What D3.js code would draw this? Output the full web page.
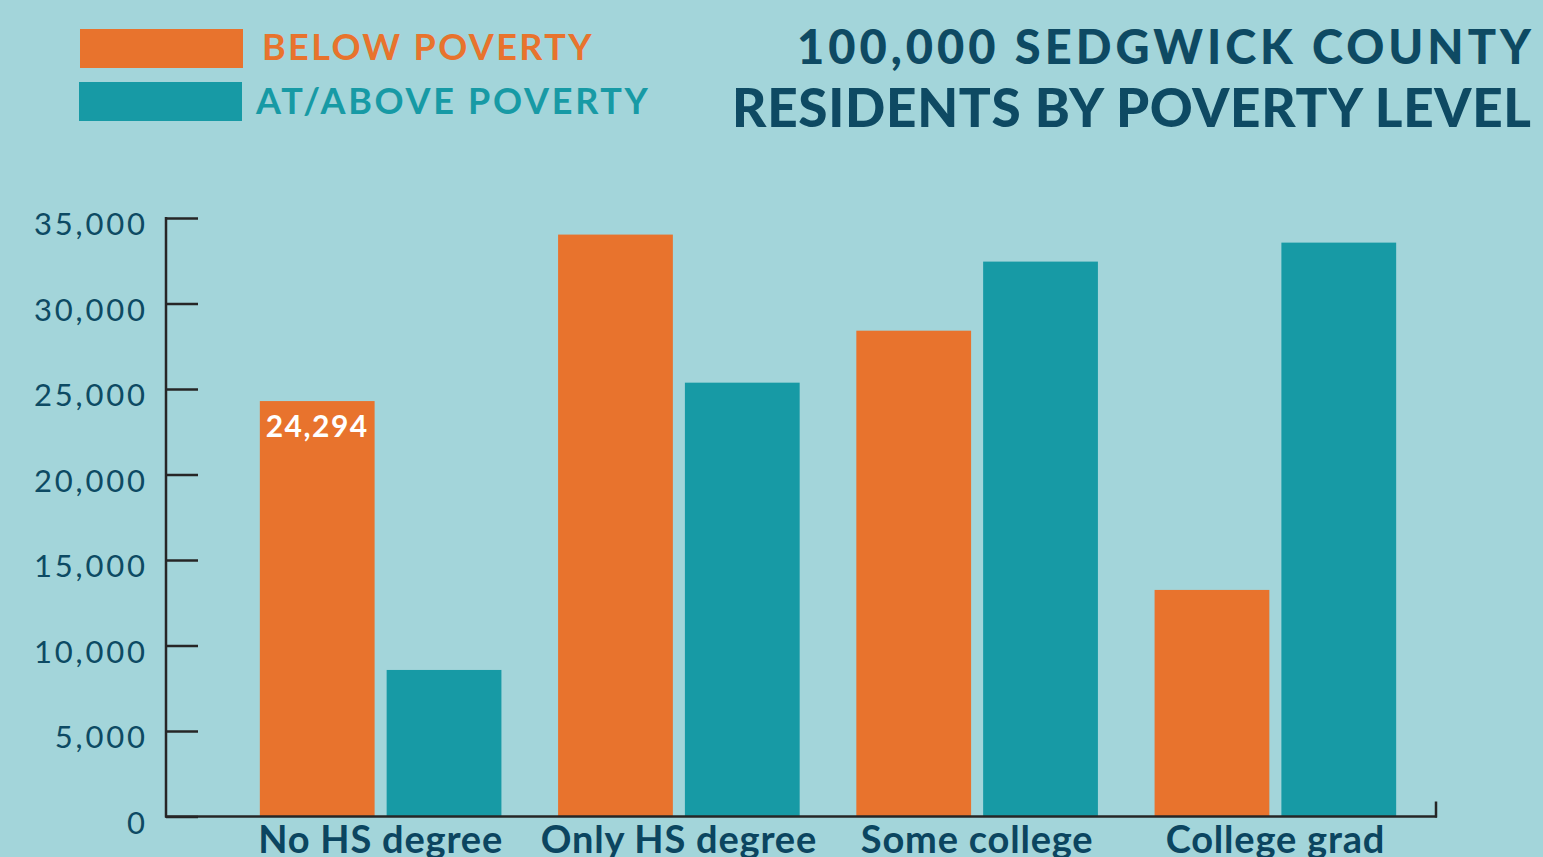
<!DOCTYPE html>
<html><head><meta charset="utf-8">
<script src="https://cdn.jsdelivr.net/npm/d3@7"></script>
<style>
html,body{margin:0;padding:0;background:#a3d5da;}
svg{display:block;}
</style></head>
<body>
<script>
const categories = ["No HS degree", "Only HS degree", "Some college", "College grad"];
const seriesNames = ["BELOW POVERTY", "AT/ABOVE POVERTY"];
const belowPoverty = [24294, 34030, 28410, 13250];
const atAbovePoverty = [8570, 25370, 32450, 33560];
const yTicks = [0, 5000, 10000, 15000, 20000, 25000, 30000, 35000];
const titleLines = ["100,000 SEDGWICK COUNTY", "RESIDENTS BY POVERTY LEVEL"];
const colors = ["#e8732d", "#179aa5"];

const W = 1543, H = 857;
const svg = d3.select("body").append("svg").attr("width", W).attr("height", H);
svg.append("rect").attr("width", W).attr("height", H).attr("fill", "#a3d5da");

const y = d3.scaleLinear().domain([0, 35000]).range([816.5, 218]);
const x0 = d3.scaleBand().domain(categories).range([233, 1423]).paddingInner(0.19).paddingOuter(0.09);
const x1 = d3.scaleBand().domain([0, 1]).range([0, x0.bandwidth()]).paddingInner(0.095);

const data = categories.map((c, i) => ({cat: c, vals: [belowPoverty[i], atAbovePoverty[i]]}));

// bars
const g = svg.append("g");
const groups = g.selectAll("g.grp").data(data).join("g").attr("transform", d => `translate(${x0(d.cat)},0)`);
groups.selectAll("rect").data(d => d.vals.map((v, k) => ({v, k}))).join("rect")
  .attr("x", d => x1(d.k)).attr("width", x1.bandwidth())
  .attr("y", d => y(d.v)).attr("height", d => y(0) - y(d.v))
  .attr("fill", d => colors[d.k]);

// axis
const axisColor = "#262626";
const yAxis = d3.axisRight(y).tickValues(yTicks).tickSize(32).tickFormat("");
const ya = svg.append("g").attr("transform", "translate(166,0)").call(yAxis);
ya.select(".domain").remove();
ya.selectAll(".tick line").attr("stroke", axisColor).attr("stroke-width", 2.5);
svg.append("line").attr("x1", 166).attr("x2", 166).attr("y1", y(35000) - 1).attr("y2", y(0) + 1)
  .attr("stroke", axisColor).attr("stroke-width", 2.5);
svg.append("line").attr("x1", 165).attr("x2", 1437).attr("y1", y(0)).attr("y2", y(0))
  .attr("stroke", axisColor).attr("stroke-width", 2.5);
svg.append("line").attr("x1", 1436).attr("x2", 1436).attr("y1", y(0) - 15).attr("y2", y(0) + 1)
  .attr("stroke", axisColor).attr("stroke-width", 2.5);

// y tick labels
const yls = 2.8;
svg.append("g").selectAll("text").data(yTicks).join("text")
  .attr("x", 145 + yls).attr("y", d => y(d) + 17)
  .attr("text-anchor", "end")
  .attr("font-family", "Lato, sans-serif").attr("font-size", 31)
  .attr("letter-spacing", yls)
  .attr("fill", "#0d4a63")
  .text(d => d3.format(",")(d));

// x labels
svg.append("g").selectAll("text").data(categories).join("text")
  .attr("x", d => x0(d) + x0.bandwidth() / 2).attr("y", 853)
  .attr("text-anchor", "middle")
  .attr("font-family", "Lato, sans-serif").attr("font-weight", 700).attr("font-size", 38)
  .attr("letter-spacing", 0.8)
  .attr("fill", "#0b4560")
  .text(d => d);

// value label
svg.append("text")
  .attr("x", x0(categories[0]) + x1(0) + x1.bandwidth() / 2).attr("y", y(belowPoverty[0]) + 36)
  .attr("text-anchor", "middle")
  .attr("font-family", "Lato, sans-serif").attr("font-weight", 700).attr("font-size", 30)
  .attr("letter-spacing", 1.5)
  .attr("fill", "#ffffff")
  .text(d3.format(",")(belowPoverty[0]));

// legend
const leg = svg.append("g");
seriesNames.forEach((s, i) => {
  leg.append("rect").attr("x", 80 - i).attr("y", 29 + i * 53).attr("width", 163).attr("height", 39).attr("fill", colors[i]);
  leg.append("text").attr("x", i === 0 ? 262 : 256).attr("y", 60 + i * 54)
    .attr("font-family", "Lato, sans-serif").attr("font-weight", 700).attr("font-size", 36)
    .attr("letter-spacing", (i === 0 ? 2.4 : 2.7))
    .attr("fill", colors[i]).text(s);
});

// title
const titleSizes = [47, 53];
const titleLs = [4.0, 0.7];
svg.append("g").selectAll("text").data(titleLines).join("text")
  .attr("x", (d, i) => 1531 + titleLs[i]).attr("y", (d, i) => i === 0 ? 64 : 127)
  .attr("text-anchor", "end")
  .attr("font-family", "Lato, sans-serif").attr("font-weight", 900)
  .attr("font-size", (d, i) => titleSizes[i])
  .attr("letter-spacing", (d, i) => titleLs[i])
  .attr("fill", "#0e4a63")
  .text(d => d);
</script>
</body></html>
